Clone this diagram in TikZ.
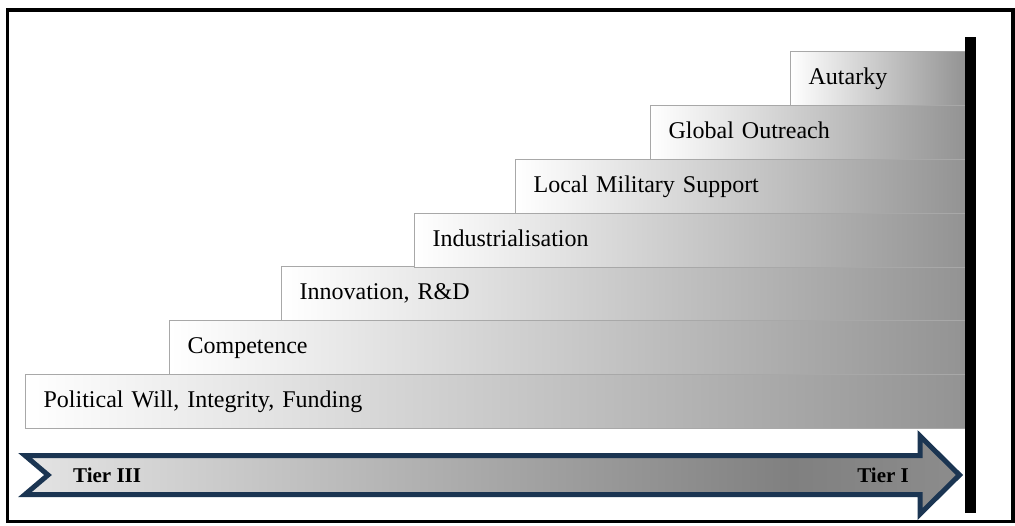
\documentclass[tikz,border=0pt]{standalone}
\usepackage{fontspec}
\setmainfont{Liberation Serif}
\definecolor{arrownavy}{HTML}{1B3552}
\definecolor{stepedge}{HTML}{A8A8A8}
\definecolor{stepend}{HTML}{939393}
\definecolor{arrL}{HTML}{E4E4E4}
\definecolor{arrM}{HTML}{808080}
\definecolor{arrR}{HTML}{8C8C8C}
% light grey on the left, darkest near the arrow head
\pgfdeclarehorizontalshading{tiershade}{100bp}{color(0bp)=(arrL); color(25bp)=(arrL); color(66bp)=(arrM); color(75bp)=(arrR); color(100bp)=(arrR)}

\begin{document}
\begin{tikzpicture}[x=1pt,y=-1pt,
  stepbox/.style={draw=stepedge, line width=1.2pt, left color=white, right color=stepend,
    anchor=north west, minimum height=54pt, inner xsep=18pt, inner ysep=0pt,
    align=left, text height=16pt, text depth=5pt, font=\fontsize{24}{28}\selectfont},
  tierlabel/.style={font=\bfseries\fontsize{21}{24}\selectfont, inner sep=0pt}]
\useasboundingbox (0,0) rectangle (1015,525);

% outer frame
\draw[line width=3.2pt] (7.5,10) rectangle (1013,521.5);

% staircase of capability levels, bottom step first
\node[stepbox, text width=904pt] (s1) at (25,374) {Political Will, Integrity, Funding};
\node[stepbox, text width=760pt] (s2) at (169,320) {Competence};
\node[stepbox, text width=648pt] (s3) at (281,266) {Innovation, R\&D};
\node[stepbox, text width=515pt] (s4) at (414,213) {Industrialisation};
\node[stepbox, text width=414pt] (s5) at (515,159) {Local Military Support};
\node[stepbox, text width=279pt] (s6) at (650,105) {Global Outreach};
\node[stepbox, text width=139pt] (s7) at (790,51) {Autarky};

% vertical end bar
\fill[black] (965,37) rectangle (976,513);

% tier arrow
\shadedraw[shading=tiershade, draw=arrownavy, line width=5pt, miter limit=10]
  (25,455.5) -- (920,455.5) -- (920,436) -- (959.5,475) -- (920,514)
  -- (920,494.5) -- (25,494.5) -- (48,475) -- cycle;
\node[tierlabel, anchor=base west] (t3) at (73,482) {Tier III};
\node[tierlabel, anchor=base east] (t1) at (909,482) {Tier I};
\end{tikzpicture}
\end{document}
